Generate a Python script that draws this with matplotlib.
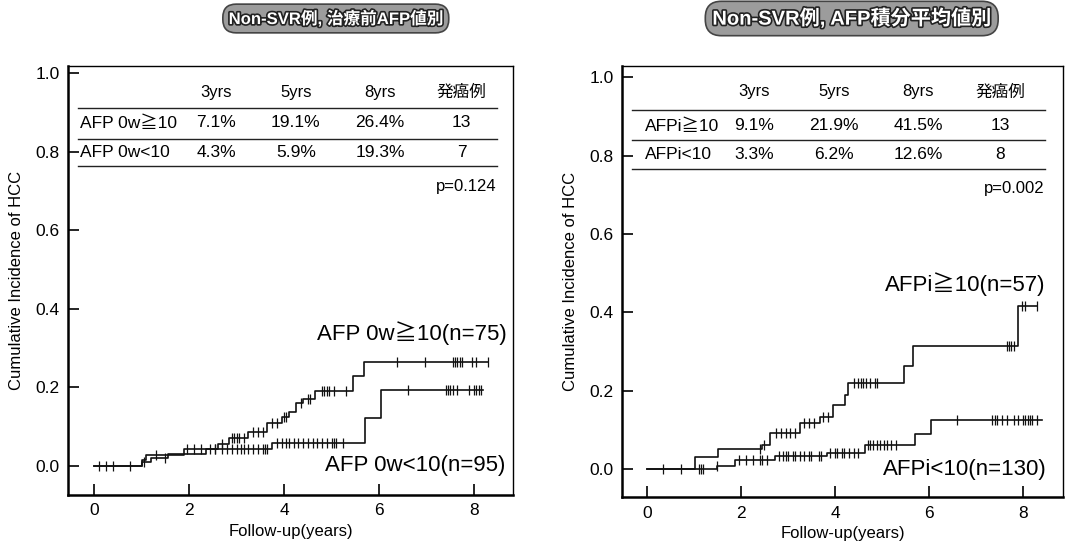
import numpy as np
import matplotlib.pyplot as plt
import matplotlib.patheffects as pe

plt.rcParams['font.family'] = ['Liberation Sans', 'Noto Sans CJK JP']

# 治療前AFP値別 (step times / cumulative incidence / censored times)
hi0_t = [0, 1.0, 1.1, 1.9, 2.6, 2.85, 3.25, 3.65, 3.95, 4.1, 4.25, 4.4, 4.65, 5.45, 5.68]
hi0_y = [0, 0.015, 0.028, 0.044, 0.057, 0.071, 0.086, 0.11, 0.124, 0.137, 0.16, 0.17, 0.191, 0.229, 0.264]
hi0_end = 8.29
hi0_cens = [1.3, 1.95, 2.1, 2.25, 2.55, 2.7, 2.9, 2.95, 3.0, 3.05, 3.15, 3.35, 3.45, 3.55,
            3.75, 3.85, 4.0, 4.05, 4.35, 4.5, 4.55, 4.8, 4.85, 4.9, 4.95, 5.05, 5.3,
            6.37, 6.97, 7.55, 7.6, 7.65, 7.7, 7.75, 7.95, 8.05, 8.29]

lo0_t = [0, 1.0, 1.2, 1.55, 2.35, 3.75, 5.7, 6.05]
lo0_y = [0, 0.01, 0.02, 0.03, 0.043, 0.059, 0.123, 0.193]
lo0_end = 8.19
lo0_cens = [0.1, 0.25, 0.4, 0.75, 1.05, 1.5, 2.45, 2.55, 2.7, 2.8, 2.9, 3.0, 3.1, 3.15, 3.25,
            3.35, 3.45, 3.55, 3.6, 3.65, 3.85, 3.95, 4.05, 4.1, 4.2, 4.3, 4.4, 4.5, 4.6,
            4.7, 4.8, 4.9, 5.0, 5.05, 5.1, 5.25, 6.6, 7.4, 7.45, 7.5, 7.55, 7.65, 7.9,
            8.0, 8.05, 8.1, 8.15]

# AFP積分平均値別
hiI_t = [0, 1.02, 1.52, 2.44, 2.62, 3.26, 3.68, 3.96, 4.21, 4.28, 5.47, 5.66, 7.9]
hiI_y = [0, 0.03, 0.05, 0.06, 0.091, 0.117, 0.134, 0.164, 0.19, 0.219, 0.263, 0.314, 0.415]
hiI_end = 8.29
hiI_cens = [2.4, 2.5, 2.75, 2.85, 2.95, 3.05, 3.15, 3.35, 3.45, 3.55, 3.75, 3.85, 4.4,
            4.5, 4.55, 4.6, 4.65, 4.75, 4.85, 4.9, 7.65, 7.7, 7.75, 7.8, 7.98, 8.05, 8.29]

loI_t = [0, 1.48, 1.87, 2.72, 3.82, 4.64, 5.7, 6.04]
loI_y = [0, 0.008, 0.022, 0.033, 0.04, 0.062, 0.089, 0.126]
loI_end = 8.4
loI_cens = [0.35, 0.72, 1.1, 1.15, 1.2, 1.5, 1.95, 2.1, 2.25, 2.4, 2.45, 2.55, 2.8, 2.9,
            2.95, 3.0, 3.1, 3.15, 3.25, 3.35, 3.45, 3.5, 3.65, 3.7, 3.9, 4.0, 4.05, 4.15,
            4.2, 4.3, 4.4, 4.5, 4.7, 4.75, 4.8, 4.9, 4.95, 5.05, 5.1, 5.2, 5.3, 6.59,
            7.35, 7.4, 7.45, 7.55, 7.65, 7.8, 7.9, 8.0, 8.05, 8.1, 8.15, 8.2, 8.3]

header = ['3yrs', '5yrs', '8yrs', '発癌例']
rows0 = [['AFP 0w≧10', '7.1%', '19.1%', '26.4%', '13'],
         ['AFP 0w<10', '4.3%', '5.9%', '19.3%', '7']]
rowsI = [['AFPi≧10', '9.1%', '21.9%', '41.5%', '13'],
         ['AFPi<10', '3.3%', '6.2%', '12.6%', '8']]
pvals = ['p=0.124', 'p=0.002']
titles = ['Non-SVR例, 治療前AFP値別', 'Non-SVR例, AFP積分平均値別']
labels0 = ['AFP 0w≧10(n=75)', 'AFP 0w<10(n=95)']
labelsI = ['AFPi≧10(n=57)', 'AFPi<10(n=130)']


def km(ax, t, y, end, cens):
    tt = list(t) + [end]
    yy = list(y) + [y[-1]]
    ax.step(tt, yy, where='post', color='#111111', lw=1.2)
    idx = np.searchsorted(t, cens, side='right') - 1
    cy = np.array(y)[idx]
    ax.plot(cens, cy, ls='none', marker='|', ms=7, mew=0.9, color='#111111')


def tabla(ax, rows, pval, cols, x0, x1, lab_x, ys, lines_y):
    for c, h in zip(cols, header):
        ax.text(c, ys[0], h, transform=ax.transAxes, ha='center', va='center', fontsize=12)
    for r, yr in zip(rows, ys[1:3]):
        ax.text(lab_x, yr, r[0], transform=ax.transAxes, ha='left', va='center', fontsize=12.5)
        for c, v in zip(cols, r[1:]):
            ax.text(c, yr, v, transform=ax.transAxes, ha='center', va='center', fontsize=12.5)
    for ly in lines_y:
        ax.plot([x0, x1], [ly, ly], transform=ax.transAxes, color='#222222', lw=1.0)
    ax.text(x1, ys[3], pval, transform=ax.transAxes, ha='right', va='center', fontsize=12)


def ejes(ax, xlim, ylim):
    ax.set_xlim(xlim)
    ax.set_ylim(ylim)
    ax.set_xticks([0, 2, 4, 6, 8])
    ax.set_yticks([0, 0.2, 0.4, 0.6, 0.8, 1.0])
    ax.set_yticklabels(['%.1f' % v for v in [0, 0.2, 0.4, 0.6, 0.8, 1.0]])
    ax.tick_params(direction='in', length=8, width=1.2, labelsize=12.5, pad=6)
    for s in ax.spines.values():
        s.set_linewidth(1.0)
    ax.spines['left'].set_linewidth(1.8)
    ax.spines['bottom'].set_linewidth(1.8)
    ax.set_xlabel('Follow-up(years)', fontsize=12, labelpad=4)
    ax.set_ylabel('Cumulative Incidence of HCC', fontsize=12, labelpad=8)


fig = plt.figure(figsize=(10.66, 5.44), dpi=100)
ax1 = fig.add_axes([0.0638, 0.090, 0.4174, 0.789])
ax2 = fig.add_axes([0.5835, 0.086, 0.4137, 0.793])

km(ax1, hi0_t, hi0_y, hi0_end, hi0_cens)
km(ax1, lo0_t, lo0_y, lo0_end, lo0_cens)
ejes(ax1, (-0.55, 8.82), (-0.074, 1.018))
tabla(ax1, rows0, pvals[0], [0.333, 0.512, 0.701, 0.885], 0.022, 0.964, 0.027,
      [0.939, 0.867, 0.797, 0.718], [0.902, 0.830, 0.767])
ax1.text(8.69, 0.338, labels0[0], ha='right', va='center', fontsize=16)
ax1.text(8.66, 0.0, labels0[1], ha='right', va='center', fontsize=16)

km(ax2, hiI_t, hiI_y, hiI_end, hiI_cens)
km(ax2, loI_t, loI_y, loI_end, loI_cens)
ejes(ax2, (-0.53, 8.85), (-0.072, 1.029))
tabla(ax2, rowsI, pvals[1], [0.299, 0.481, 0.671, 0.857], 0.023, 0.959, 0.052,
      [0.940, 0.861, 0.794, 0.715], [0.898, 0.828, 0.761])
ax2.text(8.47, 0.472, labelsI[0], ha='right', va='center', fontsize=16)
ax2.text(8.5, 0.0, labelsI[1], ha='right', va='center', fontsize=16)

# rounded title badges
for xc, tt, fs in [(0.315, titles[0], 12), (0.799, titles[1], 14.5)]:
    fig.text(xc, 0.966, tt, ha='center', va='center', fontsize=fs, color='white',
             fontweight='bold',
             path_effects=[pe.withStroke(linewidth=2.4, foreground='#222222')],
             bbox=dict(boxstyle='round,pad=0.35,rounding_size=0.8', fc='#9c9c9c',
                       ec='#444444', lw=1.2))

fig.savefig('out.png', dpi=100)
